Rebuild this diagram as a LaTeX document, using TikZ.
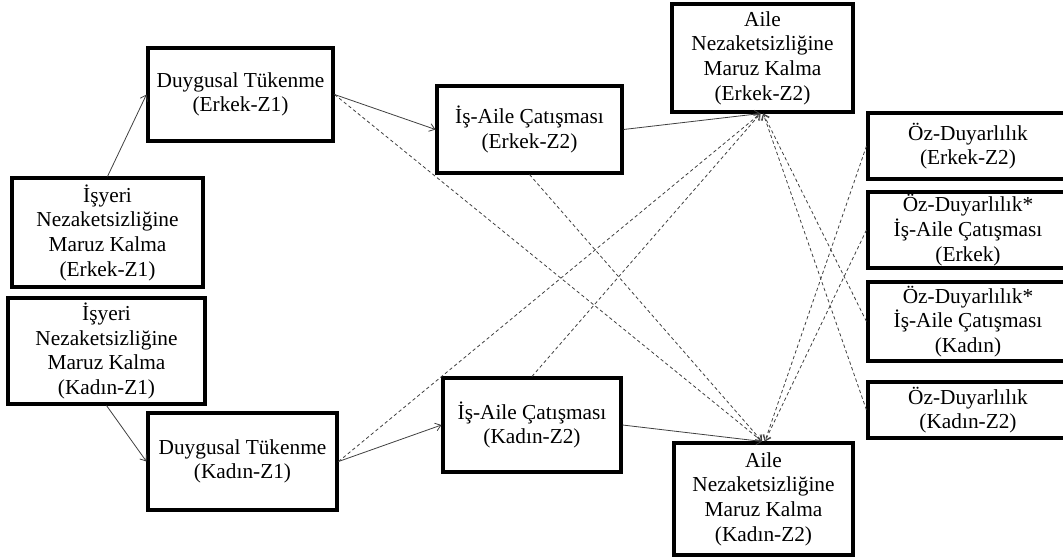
\documentclass[tikz,border=0pt]{standalone}
\usepackage{fontspec}
\setmainfont{Liberation Serif}
\usetikzlibrary{arrows.meta}
\tikzset{
  box/.style={draw=black, line width=2.3pt, inner sep=0pt, align=center,
    font=\fontsize{16pt}{18.5pt}\selectfont},
  conn/.style={draw=black!75, line width=0.6pt, -{Straight Barb[length=4pt,width=6pt]}},
  dconn/.style={conn, dash pattern=on 2.5pt off 2pt},
}
\begin{document}
\begin{tikzpicture}[x=0.75pt, y=-0.75pt]
\useasboundingbox (0,0) rectangle (1063,559);
% left column
\node[box, minimum width=138.75pt, minimum height=69.75pt] (DTE) at (240.5,94.5) {Duygusal Tükenme\\(Erkek-Z1)};
\node[box, minimum width=143.25pt, minimum height=81.75pt] (INE) at (107.5,232.5) {İşyeri\\Nezaketsizliğine\\Maruz Kalma\\(Erkek-Z1)};
\node[box, minimum width=147.75pt, minimum height=79.5pt] (INK) at (106.5,351) {İşyeri\\Nezaketsizliğine\\Maruz Kalma\\(Kadın-Z1)};
\node[box, minimum width=141.75pt, minimum height=72.75pt] (DTK) at (242.5,461.5) {Duygusal Tükenme\\(Kadın-Z1)};
% middle
\node[box, minimum width=138.75pt, minimum height=65.25pt] (IACE) at (529.5,129.5) {İş-Aile Çatışması\\(Erkek-Z2)};
\node[box, minimum width=133.5pt, minimum height=70.5pt] (IACK) at (532,425) {İş-Aile Çatışması\\(Kadın-Z2)};
\node[box, minimum width=135.75pt, minimum height=81pt] (ANE) at (762.5,58) {Aile\\Nezaketsizliğine\\Maruz Kalma\\(Erkek-Z2)};
\node[box, minimum width=134.25pt, minimum height=84pt] (ANK) at (763.5,499) {Aile\\Nezaketsizliğine\\Maruz Kalma\\(Kadın-Z2)};
% right column
\node[box, minimum width=150pt, minimum height=49.5pt] (ODE) at (968,146) {Öz-Duyarlılık\\(Erkek-Z2)};
\node[box, minimum width=150pt, minimum height=57pt] (ODIE) at (968,230) {Öz-Duyarlılık*\\İş-Aile Çatışması\\(Erkek)};
\node[box, minimum width=150pt, minimum height=59.25pt] (ODIK) at (968,321.5) {Öz-Duyarlılık*\\İş-Aile Çatışması\\(Kadın)};
\node[box, minimum width=150pt, minimum height=42pt] (ODK) at (968,410) {Öz-Duyarlılık\\(Kadın-Z2)};
% solid connectors
\draw[conn] (INE.north) -- (DTE.west);
\draw[conn] (INK.south) -- (DTK.west);
\draw[conn] (DTE.east) -- (IACE.west);
\draw[conn] (DTK.east) -- (IACK.west);
\draw[conn] (IACE.east) -- ([xshift=-1.5pt]ANE.south);
\draw[conn] (IACK.east) -- ([xshift=-1pt]ANK.north);
% dashed connectors
\draw[dconn] (DTE.east) -- ([xshift=-1pt]ANK.north);
\draw[dconn] (DTK.east) -- ([xshift=-1.5pt]ANE.south);
\draw[dconn] (IACE.south) -- ([xshift=-1pt]ANK.north);
\draw[dconn] (IACK.north) -- ([xshift=-1.5pt]ANE.south);
\draw[dconn] (ODE.west) -- ([xshift=1pt]ANK.north);
\draw[dconn] (ODIE.west) -- ([xshift=1pt]ANK.north);
\draw[dconn] (ODIK.west) -- ([xshift=0.5pt]ANE.south);
\draw[dconn] (ODK.west) -- ([xshift=0.5pt]ANE.south);
\end{tikzpicture}
\end{document}
